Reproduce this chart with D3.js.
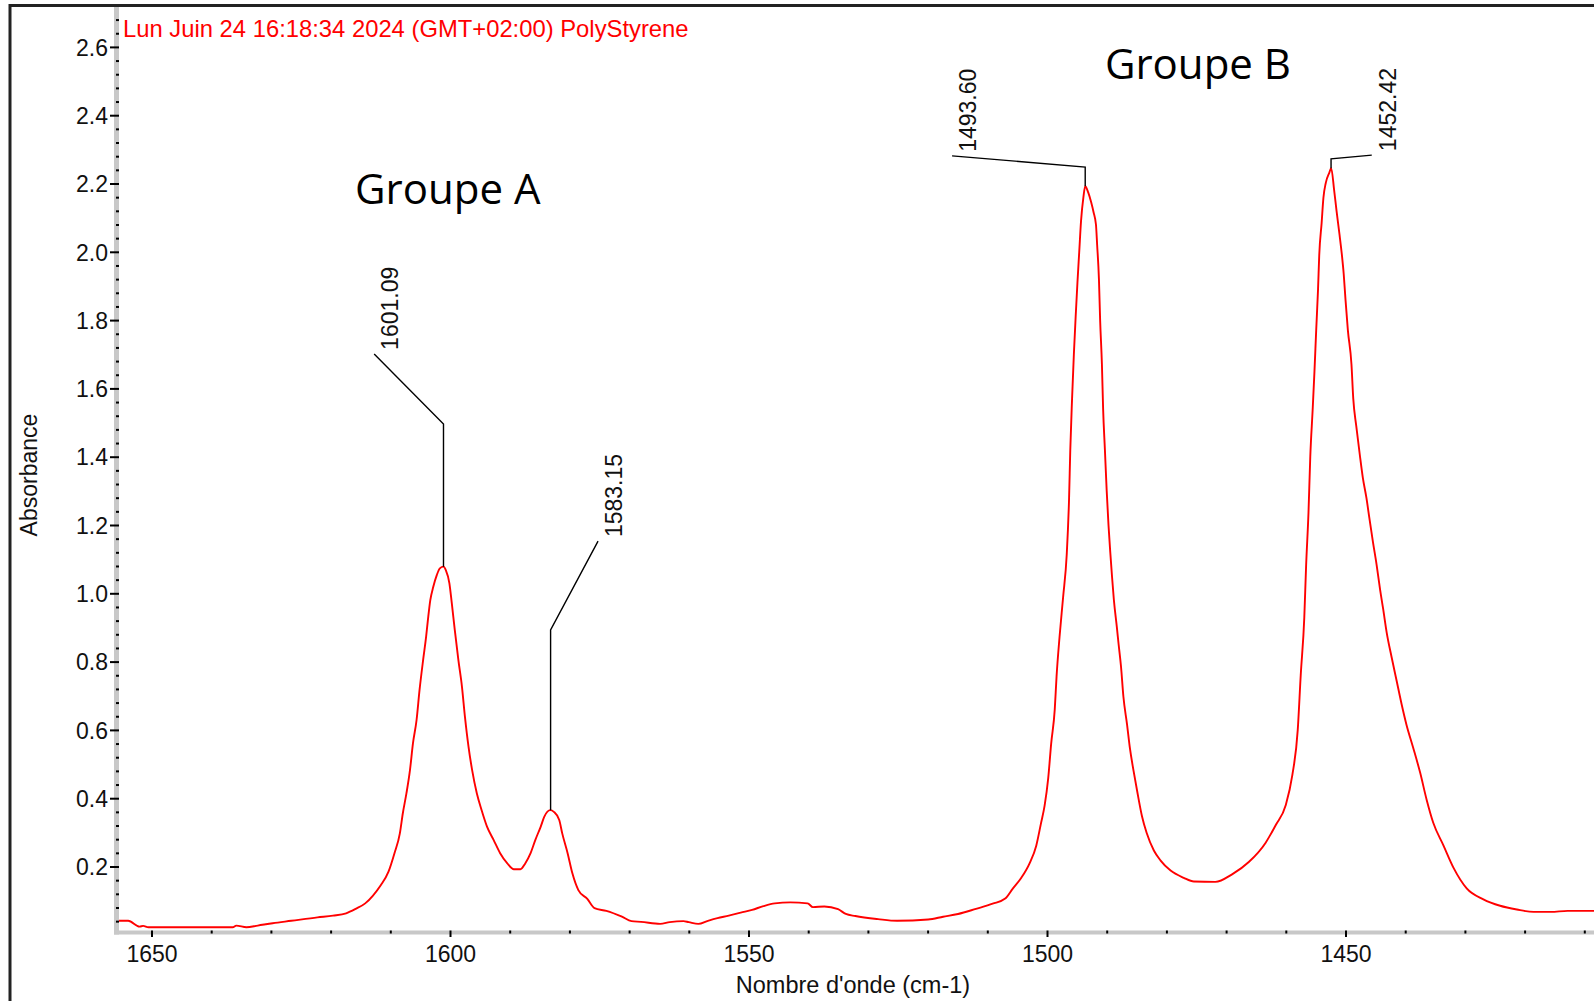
<!DOCTYPE html>
<html>
<head>
<meta charset="utf-8">
<script src="https://cdn.jsdelivr.net/npm/d3@7"></script>
<style>
    body { margin: 0; background: #fff; }
    svg { display: block; }
</style>
</head>
<body>
<div id="chart"></div>
<script>
// spectrum (wavenumber in cm-1, absorbance)
const wavenumbers = [
    1656.0, 1653.9, 1652.0, 1651.4, 1650.5, 1647.8, 1640.0, 1636.4, 1635.8, 1634.1,
    1632.2, 1629.7, 1626.6, 1622.2, 1619.6, 1617.4, 1615.8, 1614.2, 1612.9, 1611.6,
    1610.3, 1609.3, 1608.4, 1607.9, 1607.3, 1606.7, 1606.2, 1605.6, 1605.1, 1604.5,
    1604.0, 1603.7, 1603.3, 1602.8, 1602.2, 1601.7, 1601.1, 1600.7, 1600.1, 1599.7,
    1599.2, 1598.6, 1598.0, 1597.5, 1596.9, 1596.3, 1595.5, 1594.7, 1593.8, 1592.7,
    1591.6, 1590.4, 1589.3, 1588.2, 1587.4, 1586.5, 1585.7, 1584.8, 1584.2, 1583.2,
    1582.6, 1581.7, 1581.2, 1580.3, 1579.5, 1578.5, 1577.0, 1575.8, 1573.8, 1571.2,
    1569.6, 1568.0, 1564.8, 1563.2, 1560.9, 1560.0, 1558.4, 1556.8, 1555.2, 1553.3,
    1551.3, 1549.4, 1547.5, 1545.6, 1543.0, 1540.1, 1539.2, 1537.3, 1535.0, 1533.7,
    1532.1, 1528.3, 1525.1, 1519.9, 1517.4, 1514.9, 1511.9, 1509.1, 1507.0, 1505.7,
    1504.3, 1502.9, 1501.8, 1501.0, 1500.4, 1499.8, 1499.3, 1498.7, 1498.4, 1497.9,
    1497.3, 1496.7, 1496.3, 1496.1, 1495.8, 1495.5, 1495.2, 1494.9, 1494.6, 1494.3,
    1493.9, 1493.6, 1493.1, 1492.6, 1492.2, 1491.8, 1491.6, 1491.3, 1491.1, 1490.8,
    1490.6, 1490.3, 1490.0, 1489.7, 1489.4, 1489.1, 1488.8, 1488.3, 1488.0, 1487.6,
    1487.2, 1486.6, 1486.1, 1485.5, 1484.9, 1484.1, 1483.3, 1482.1, 1481.0, 1479.3,
    1477.1, 1475.4, 1471.8, 1469.0, 1466.2, 1463.4, 1461.7, 1460.0, 1458.9, 1458.0,
    1457.5, 1456.9, 1456.6, 1456.2, 1455.9, 1455.5, 1455.2, 1454.9, 1454.6, 1454.4,
    1454.0, 1453.7, 1453.3, 1452.7, 1452.4, 1451.9, 1451.5, 1451.0, 1450.6, 1450.3,
    1450.0, 1449.6, 1449.0, 1448.7, 1448.2, 1447.6, 1447.1, 1446.5, 1446.0, 1445.4,
    1444.8, 1444.2, 1443.7, 1443.1, 1442.3, 1441.4, 1440.6, 1439.8, 1438.7, 1437.5,
    1436.4, 1435.3, 1433.6, 1431.9, 1429.7, 1426.9, 1424.1, 1421.3, 1418.5, 1415.6,
    1412.8, 1408.0
]
const absorbance = [
    0.041, 0.041, 0.024, 0.026, 0.022, 0.022, 0.022, 0.022, 0.027, 0.022,
    0.027, 0.034, 0.041, 0.051, 0.056, 0.063, 0.076, 0.092, 0.115, 0.145,
    0.185, 0.239, 0.297, 0.356, 0.414, 0.483, 0.561, 0.629, 0.717, 0.805,
    0.873, 0.922, 0.980, 1.019, 1.054, 1.073, 1.078, 1.068, 1.029, 0.971,
    0.893, 0.805, 0.727, 0.639, 0.551, 0.483, 0.414, 0.365, 0.317, 0.278,
    0.239, 0.209, 0.192, 0.192, 0.209, 0.239, 0.278, 0.317, 0.346, 0.365,
    0.360, 0.336, 0.297, 0.239, 0.180, 0.131, 0.105, 0.078, 0.070, 0.053,
    0.040, 0.038, 0.032, 0.037, 0.040, 0.037, 0.032, 0.041, 0.049, 0.056,
    0.065, 0.073, 0.084, 0.092, 0.095, 0.092, 0.081, 0.083, 0.075, 0.061,
    0.055, 0.046, 0.041, 0.045, 0.053, 0.061, 0.076, 0.091, 0.106, 0.136,
    0.167, 0.210, 0.261, 0.327, 0.378, 0.458, 0.560, 0.660, 0.756, 0.872,
    0.989, 1.112, 1.280, 1.420, 1.570, 1.700, 1.810, 1.910, 2.000, 2.090,
    2.160, 2.192, 2.174, 2.145, 2.116, 2.080, 2.020, 1.920, 1.800, 1.670,
    1.540, 1.420, 1.300, 1.200, 1.120, 1.047, 0.981, 0.901, 0.850, 0.785,
    0.697, 0.617, 0.545, 0.480, 0.421, 0.348, 0.298, 0.247, 0.218, 0.188,
    0.167, 0.156, 0.155, 0.177, 0.213, 0.269, 0.321, 0.380, 0.468, 0.600,
    0.760, 0.930, 1.080, 1.236, 1.400, 1.538, 1.649, 1.774, 1.890, 1.990,
    2.084, 2.158, 2.202, 2.232, 2.245, 2.180, 2.120, 2.050, 1.990, 1.935,
    1.860, 1.770, 1.670, 1.570, 1.490, 1.405, 1.339, 1.280, 1.220, 1.150,
    1.085, 1.010, 0.955, 0.885, 0.815, 0.741, 0.675, 0.616, 0.550, 0.475,
    0.395, 0.328, 0.262, 0.196, 0.136, 0.104, 0.085, 0.074, 0.067, 0.067,
    0.070, 0.070
]

// peak picks: label, peak top, knee of the leader, end of the leader
const peakWn = [1601.09, 1583.15, 1493.60, 1452.42]
const peakText = ['1601.09', '1583.15', '1493.60', '1452.42']
const peakAbs = [1.078, 0.365, 2.192, 2.245]
const kneeAbs = [1.496, 0.893, 2.248, 2.272]
const leaderWn = [1612.7, 1575.2, 1515.9, 1445.6]
const leaderAbs = [1.701, 1.153, 2.281, 2.283]

const groupText = ['Groupe A', 'Groupe B']
const groupWn = [1615.9, 1490.3]
const groupAbs = [2.140, 2.505]

const xTicks = [1650, 1600, 1550, 1500, 1450]
const yTicks = [0.2, 0.4, 0.6, 0.8, 1.0, 1.2, 1.4, 1.6, 1.8, 2.0, 2.2, 2.4, 2.6]
const title = 'Lun Juin 24 16:18:34 2024 (GMT+02:00) PolyStyrene'
const xTitle = "Nombre d'onde (cm-1)"
const yTitle = 'Absorbance'

const W = 1594, H = 1001
const plotLeft = 119, plotBottom = 930.5, plotTop = 7

const svg = d3.select('#chart').append('svg')
    .attr('width', W)
    .attr('height', H)

const xScale = d3.scaleLinear().domain([1650, 1450]).range([151.5, 1345.5])
const yScale = d3.scaleLinear().domain([0, 2.6]).range([934.8, 46.9])

// outer frame (left + top only, rest runs off the page)
svg.append('path')
    .attr('d', `M10,${H} L10,5.5 L${W},5.5`)
    .attr('fill', 'none')
    .attr('stroke', '#222')
    .attr('stroke-width', 3)

// gray axis bands
svg.append('rect').attr('x', 114).attr('y', plotTop).attr('width', 5).attr('height', 934.5 - plotTop).attr('fill', '#c8c8c8')
svg.append('rect').attr('x', 114).attr('y', plotBottom).attr('width', W - 114).attr('height', 4).attr('fill', '#c8c8c8')

const font = "'Liberation Sans', Arial, sans-serif"

// y axis
const yMinor = d3.range(1, 68).map(d => d * 0.04).filter(d => Math.abs(d / 0.2 - Math.round(d / 0.2)) > 0.01)
svg.append('g')
    .attr('transform', `translate(${plotLeft},0)`)
    .call(d3.axisLeft(yScale).tickValues(yMinor).tickSize(3).tickFormat(''))
    .call(g => g.select('.domain').remove())
    .call(g => g.selectAll('line').attr('stroke', '#000').attr('stroke-width', 2))
svg.append('g')
    .attr('transform', `translate(${plotLeft},0)`)
    .call(d3.axisLeft(yScale).tickValues(yTicks).tickSize(9).tickPadding(2).tickFormat(d3.format('.1f')))
    .call(g => g.select('.domain').remove())
    .call(g => g.selectAll('line').attr('stroke', '#000').attr('stroke-width', 2))
    .call(g => g.selectAll('text')
        .attr('x', -11)
        .attr('dy', '0.36em')
        .attr('fill', '#111')
        .attr('font-family', font)
        .attr('font-size', '23px'))

// x axis
const xMinor = d3.range(1410, 1660, 10).filter(d => d % 50 !== 0)
svg.append('g')
    .attr('transform', `translate(0,${plotBottom})`)
    .call(d3.axisBottom(xScale).tickValues(xMinor).tickSize(3).tickFormat(''))
    .call(g => g.select('.domain').remove())
    .call(g => g.selectAll('line').attr('stroke', '#000').attr('stroke-width', 2))
svg.append('g')
    .attr('transform', `translate(0,${plotBottom})`)
    .call(d3.axisBottom(xScale).tickValues(xTicks).tickSize(6.5).tickFormat(d3.format('d')))
    .call(g => g.select('.domain').remove())
    .call(g => g.selectAll('line').attr('stroke', '#000').attr('stroke-width', 2))
    .call(g => g.selectAll('text')
        .attr('y', 31.5)
        .attr('dy', 0)
        .attr('fill', '#111')
        .attr('font-family', font)
        .attr('font-size', '23px'))

// axis titles
svg.append('text')
    .text(xTitle)
    .attr('x', 853)
    .attr('y', 993)
    .attr('text-anchor', 'middle')
    .attr('fill', '#111')
    .attr('font-family', font)
    .attr('font-size', '23.5px')

svg.append('text')
    .text(yTitle)
    .attr('transform', 'translate(37,475) rotate(-90)')
    .attr('text-anchor', 'middle')
    .attr('fill', '#111')
    .attr('font-family', font)
    .attr('font-size', '23px')

// spectrum
svg.append('clipPath').attr('id', 'plot-clip')
    .append('rect')
    .attr('x', plotLeft).attr('y', plotTop)
    .attr('width', W - plotLeft).attr('height', plotBottom - plotTop)

const line = d3.line()
    .x((d, i) => xScale(wavenumbers[i]))
    .y(d => yScale(d))
    .curve(d3.curveMonotoneX)

svg.append('path')
    .datum(absorbance)
    .attr('clip-path', 'url(#plot-clip)')
    .attr('d', line)
    .attr('fill', 'none')
    .attr('stroke', '#ff0000')
    .attr('stroke-width', 1.9)

// peak leaders + labels
const peaks = svg.append('g')
peakWn.forEach(function (wn, i) {
    const px = xScale(wn)
    peaks.append('path')
        .attr('d', `M${px},${yScale(peakAbs[i])} L${px},${yScale(kneeAbs[i])} L${xScale(leaderWn[i])},${yScale(leaderAbs[i])}`)
        .attr('fill', 'none')
        .attr('stroke', '#000')
        .attr('stroke-width', 1.4)
    peaks.append('text')
        .text(peakText[i])
        .attr('transform', `translate(${xScale(leaderWn[i]) + 24},${yScale(leaderAbs[i]) - 4}) rotate(-90)`)
        .attr('fill', '#111')
        .attr('font-family', font)
        .attr('font-size', '23px')
})

// group labels
groupText.forEach(function (t, i) {
    svg.append('text')
        .text(t)
        .attr('x', xScale(groupWn[i]))
        .attr('y', yScale(groupAbs[i]))
        .attr('fill', '#000')
        .attr('font-family', "'Open Sans', sans-serif")
        .attr('font-size', '42px')
})

// header
svg.append('text')
    .text(title)
    .attr('x', 123)
    .attr('y', 37)
    .attr('fill', '#ff0000')
    .attr('font-family', font)
    .attr('font-size', '23.8px')
</script>
</body>
</html>
